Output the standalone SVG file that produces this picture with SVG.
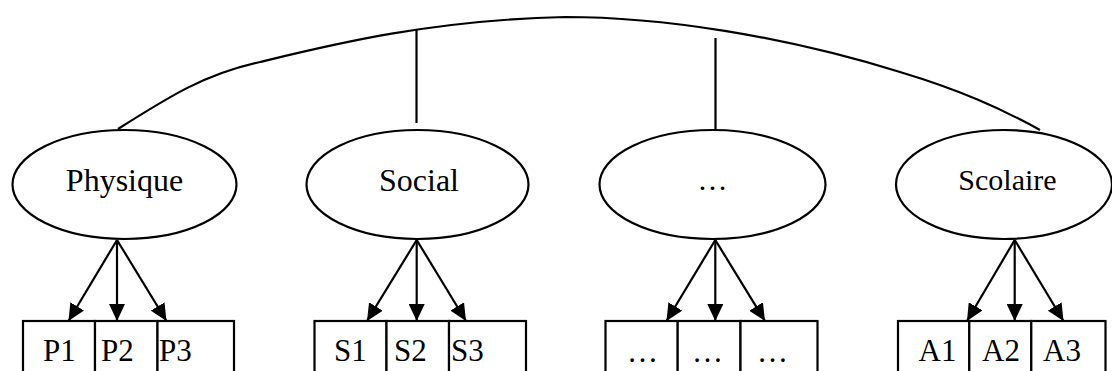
<svg xmlns="http://www.w3.org/2000/svg" width="1112" height="371" viewBox="0 0 1112 371">
<style>
.ell{fill:#fff;stroke:#000;stroke-width:2.2}
.box{fill:#fff;stroke:#000;stroke-width:2.2}
.con{fill:none;stroke:#000;stroke-width:2.2}
.lbl{font-family:"Liberation Serif","Times New Roman",serif;font-size:32px;fill:#000}
.bt{font-family:"Liberation Serif","Times New Roman",serif;font-size:31px;fill:#000}
</style>
<defs>
<marker id="ah" viewBox="0 0 17 16" refX="17" refY="8" markerWidth="17" markerHeight="16" orient="auto" markerUnits="userSpaceOnUse">
<path d="M0,0 L17,8 L0,16 Z" fill="#000"/>
</marker>
</defs>
<g id="connectors">
<path class="con" d="M118,129 C170,96 205,74 260,62 C330,45 430,20 565,17 C660,17 780,35 900,72 C960,90 1000,108 1040,130"/>
<line class="con" x1="416.5" y1="29" x2="416.5" y2="123"/>
<line class="con" x1="715.5" y1="38" x2="715.5" y2="130"/>
<line class="con" x1="117" y1="240" x2="68.5" y2="321" marker-end="url(#ah)"/>
<line class="con" x1="117" y1="240" x2="117" y2="321" marker-end="url(#ah)"/>
<line class="con" x1="117" y1="240" x2="166.5" y2="321" marker-end="url(#ah)"/>
<line class="con" x1="416.7" y1="240" x2="367" y2="321" marker-end="url(#ah)"/>
<line class="con" x1="416.7" y1="240" x2="416.7" y2="321" marker-end="url(#ah)"/>
<line class="con" x1="416.7" y1="240" x2="466" y2="321" marker-end="url(#ah)"/>
<line class="con" x1="715.3" y1="240" x2="666.5" y2="321" marker-end="url(#ah)"/>
<line class="con" x1="715.3" y1="240" x2="715.3" y2="321" marker-end="url(#ah)"/>
<line class="con" x1="715.3" y1="240" x2="765" y2="321" marker-end="url(#ah)"/>
<line class="con" x1="1014.7" y1="240" x2="967" y2="321" marker-end="url(#ah)"/>
<line class="con" x1="1014.7" y1="240" x2="1014.7" y2="321" marker-end="url(#ah)"/>
<line class="con" x1="1014.7" y1="240" x2="1063.5" y2="321" marker-end="url(#ah)"/>
</g>
<g id="physique">
<ellipse class="ell" cx="124.5" cy="184.5" rx="112" ry="54.5"/>
<text class="lbl" x="124.5" y="191" text-anchor="middle">Physique</text>
</g>
<g id="social">
<ellipse class="ell" cx="417.5" cy="184.5" rx="111" ry="54.5"/>
<text class="lbl" x="419" y="191" text-anchor="middle">Social</text>
</g>
<g id="autre">
<ellipse class="ell" cx="712.5" cy="184.5" rx="113" ry="54.5"/>
<text class="lbl" x="712.5" y="190" text-anchor="middle" style="font-size:30px">…</text>
</g>
<g id="scolaire">
<ellipse class="ell" cx="1004" cy="184.5" rx="108" ry="54.5"/>
<text class="lbl" x="1007.5" y="190" text-anchor="middle" style="font-size:30px">Scolaire</text>
</g>
<g id="p-items">
<rect class="box" x="23" y="321" width="72" height="70"/>
<rect class="box" x="95" y="321" width="62.5" height="70"/>
<rect class="box" x="157.5" y="321" width="76.5" height="70"/>
<text class="bt" x="43" y="361">P1</text>
<text class="bt" x="101" y="361">P2</text>
<text class="bt" x="159" y="361">P3</text>
</g>
<g id="s-items">
<rect class="box" x="314.5" y="321" width="72" height="70"/>
<rect class="box" x="386.5" y="321" width="62.5" height="70"/>
<rect class="box" x="449" y="321" width="77" height="70"/>
<text class="bt" x="334" y="361">S1</text>
<text class="bt" x="394" y="361">S2</text>
<text class="bt" x="451" y="361">S3</text>
</g>
<g id="x-items">
<rect class="box" x="605.5" y="321" width="72.2" height="70"/>
<rect class="box" x="677.7" y="321" width="62.8" height="70"/>
<rect class="box" x="740.5" y="321" width="77" height="70"/>
<text class="bt" x="627" y="362">…</text>
<text class="bt" x="692" y="362">…</text>
<text class="bt" x="757" y="362">…</text>
</g>
<g id="a-items">
<rect class="box" x="898" y="321" width="71.3" height="70"/>
<rect class="box" x="969.3" y="321" width="62" height="70"/>
<rect class="box" x="1031.3" y="321" width="74.2" height="70"/>
<text class="bt" x="918.5" y="361">A1</text>
<text class="bt" x="982" y="361">A2</text>
<text class="bt" x="1043" y="361">A3</text>
</g>
</svg>
